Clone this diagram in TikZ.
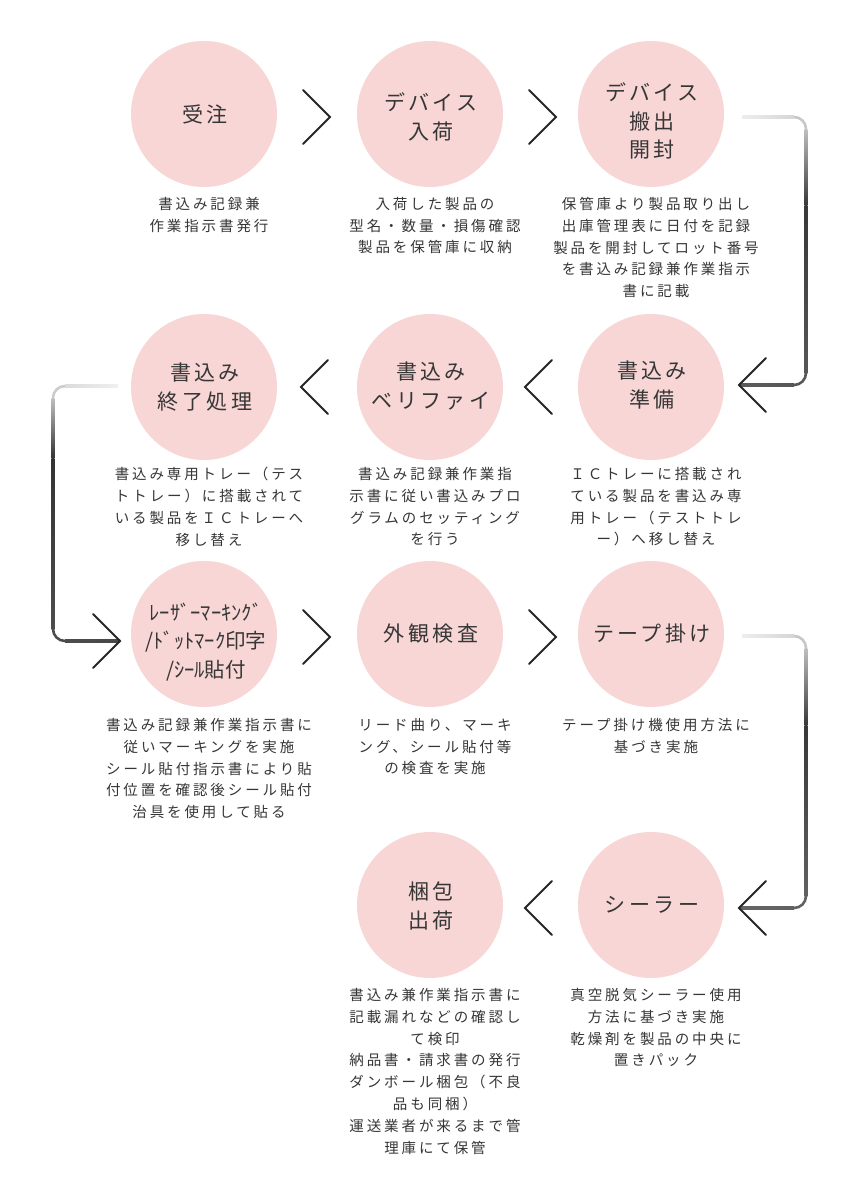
\documentclass[tikz,border=0pt]{standalone}
\usepackage{fontspec}
\newfontfamily\jpdesc[LetterSpace=20]{Noto Sans CJK JP}
\newfontfamily\jptitle[LetterSpace=16]{Noto Sans CJK JP}
\newfontfamily\jplaser{Noto Sans CJK JP}
\usetikzlibrary{calc}
\definecolor{pinkfill}{HTML}{F7D6D5}
\definecolor{ink}{HTML}{363636}
\newcommand\hseg[4]{\shade[left color=#3,right color=#4] ($(#1)+(0,-1.3)$) rectangle ($(#2)+(0,1.3)$);}
\newcommand\vseg[4]{\shade[top color=#3,bottom color=#4] ($(#1)+(-1.3,0)$) rectangle ($(#2)+(1.3,0)$);}
\newcommand\chevR[1]{\draw[chev] ($(#1)+(-27,-27)$) -- (#1) -- ($(#1)+(-27,27)$);}
\newcommand\chevL[1]{\draw[chev] ($(#1)+(27,-27)$) -- (#1) -- ($(#1)+(27,27)$);}
\begin{document}
\begin{tikzpicture}[x=1pt,y=-1pt,
  circ/.style={circle, fill=pinkfill, minimum size=146pt, inner sep=0pt},
  ttl/.style={align=center, font=\jptitle\fontsize{21}{28.5}\selectfont, text=ink, inner sep=0pt},
  lsr/.style={align=center, font=\jplaser\fontsize{20.5}{28.5}\selectfont, text=ink, inner sep=0pt},
  dsc/.style={align=center, font=\jpdesc\fontsize{14.5}{21.8}\selectfont, text=ink, inner sep=0pt, anchor=north},
  chev/.style={draw=black!85, line width=2pt, line cap=round, line join=miter},
  crn/.style={line width=2.6pt, rounded corners=12pt},
]
\useasboundingbox[fill=white] (0,0) rectangle (860,1194);

% circles
\node[circ] (c1) at (204,114) {};
\node[circ] (c2) at (430,114) {};
\node[circ] (c3) at (651,114) {};
\node[circ] (c4) at (651,387) {};
\node[circ] (c5) at (430,387) {};
\node[circ] (c6) at (204,387) {};
\node[circ] (c7) at (204,634) {};
\node[circ] (c8) at (430,634) {};
\node[circ] (c9) at (651,634) {};
\node[circ] (c10) at (651,905) {};
\node[circ] (c11) at (430,905) {};

% titles
\node[ttl] (t1) at ($(c1)+(1,0)$) {受注};
\node[ttl] (t2) at ($(c2)+(1,3)$) {デバイス\\入荷};
\node[ttl] (t3) at ($(c3)+(1,7)$) {デバイス\\搬出\\開封};
\node[ttl] (t4) at ($(c4)+(1,-2)$) {書込み\\準備};
\node[ttl] (t5) at ($(c5)+(1,-1)$) {書込み\\ベリファイ};
\node[ttl] (t6) at ($(c6)+(1,0)$) {書込み\\終了処理};
\node[lsr] (t7) at ($(c7)+(2,8)$) {ﾚｰｻﾞｰﾏｰｷﾝｸﾞ\\/ﾄﾞｯﾄﾏｰｸ印字\\/ｼｰﾙ貼付};
\node[ttl] (t8) at ($(c8)+(1,0)$) {外観検査};
\node[ttl] (t9) at ($(c9)+(1,0)$) {テープ掛け};
\node[ttl] (t10) at ($(c10)+(1,0)$) {シーラー};
\node[ttl] (t11) at ($(c11)+(1,1)$) {梱包\\出荷};

% descriptions
\node[dsc] (d1) at ($(c1)+(5,83)$) {書込み記録兼\\作業指示書発行};
\node[dsc] (d2) at ($(c2)+(5,83)$) {入荷した製品の\\型名・数量・損傷確認\\製品を保管庫に収納};
\node[dsc] (d3) at ($(c3)+(5,83)$) {保管庫より製品取り出し\\出庫管理表に日付を記録\\製品を開封してロット番号\\を書込み記録兼作業指示\\書に記載};
\node[dsc] (d4) at ($(c4)+(5,80)$) {ＩＣトレーに搭載され\\ている製品を書込み専\\用トレー（テストトレ\\ー）へ移し替え};
\node[dsc] (d5) at ($(c5)+(5,80)$) {書込み記録兼作業指\\示書に従い書込みプロ\\グラムのセッティング\\を行う};
\node[dsc] (d6) at ($(c6)+(5,80)$) {書込み専用トレー（テス\\トトレー）に搭載されて\\いる製品をＩＣトレーへ\\移し替え};
\node[dsc] (d7) at ($(c7)+(5,84)$) {書込み記録兼作業指示書に\\従いマーキングを実施\\シール貼付指示書により貼\\付位置を確認後シール貼付\\治具を使用して貼る};
\node[dsc] (d8) at ($(c8)+(5,84)$) {リード曲り、マーキ\\ング、シール貼付等\\の検査を実施};
\node[dsc] (d9) at ($(c9)+(5,84)$) {テープ掛け機使用方法に\\基づき実施};
\node[dsc] (d10) at ($(c10)+(5,83)$) {真空脱気シーラー使用\\方法に基づき実施\\乾燥剤を製品の中央に\\置きパック};
\node[dsc] (d11) at ($(c11)+(5,83)$) {書込み兼作業指示書に\\記載漏れなどの確認し\\て検印\\納品書・請求書の発行\\ダンボール梱包（不良\\品も同梱）\\運送業者が来るまで管\\理庫にて保管};

% chevrons between circles
\coordinate (k12) at (330,117);
\coordinate (k23) at (556,117);
\coordinate (k45) at (525,387);
\coordinate (k56) at (301,387);
\coordinate (k78) at (330,637);
\coordinate (k89) at (556,637);
\coordinate (k1011) at (525,908);
\chevR{k12} \chevR{k23}
\chevL{k45} \chevL{k56}
\chevR{k78} \chevR{k89}
\chevL{k1011}

% connector c3 -> c4
\coordinate (a0) at (742,117);
\coordinate (a1) at (794,117);
\coordinate (a2) at (806,129);
\coordinate (a3) at (806,205);
\coordinate (a4) at (806,373);
\coordinate (a5) at (794,385);
\coordinate (a6) at (739,385);
\hseg{a0}{a1}{black!7}{black!16}
\draw[crn, draw=black!22] (a1) -- (a1 -| a2) -- (a2);
\vseg{a2}{a3}{black!25}{black!78}
\vseg{a3}{a4}{black!78}{black!66}
\draw[crn, draw=black!66] (a4) -- (a4 |- a5) -- (a5);
\hseg{a6}{a5}{black!64}{black!66}
\chevL{a6}

% connector c6 -> c7
\coordinate (b0) at (118,386);
\coordinate (b1) at (65,386);
\coordinate (b2) at (53,398);
\coordinate (b3) at (53,458);
\coordinate (b4) at (53,629);
\coordinate (b5) at (65,641);
\coordinate (b6) at (120,641);
\hseg{b1}{b0}{black!14}{black!6}
\draw[crn, draw=black!20] (b1) -- (b1 -| b2) -- (b2);
\vseg{b2}{b3}{black!25}{black!80}
\vseg{b3}{b4}{black!80}{black!70}
\draw[crn, draw=black!70] (b4) -- (b4 |- b5) -- (b5);
\hseg{b5}{b6}{black!70}{black!72}
\chevR{b6}

% connector c9 -> c10
\coordinate (e0) at (742,636);
\coordinate (e1) at (794,636);
\coordinate (e2) at (806,648);
\coordinate (e3) at (806,725);
\coordinate (e4) at (806,896);
\coordinate (e5) at (794,908);
\coordinate (e6) at (739,908);
\hseg{e0}{e1}{black!7}{black!16}
\draw[crn, draw=black!22] (e1) -- (e1 -| e2) -- (e2);
\vseg{e2}{e3}{black!25}{black!78}
\vseg{e3}{e4}{black!78}{black!62}
\draw[crn, draw=black!62] (e4) -- (e4 |- e5) -- (e5);
\hseg{e6}{e5}{black!60}{black!62}
\chevL{e6}
\end{tikzpicture}
\end{document}
